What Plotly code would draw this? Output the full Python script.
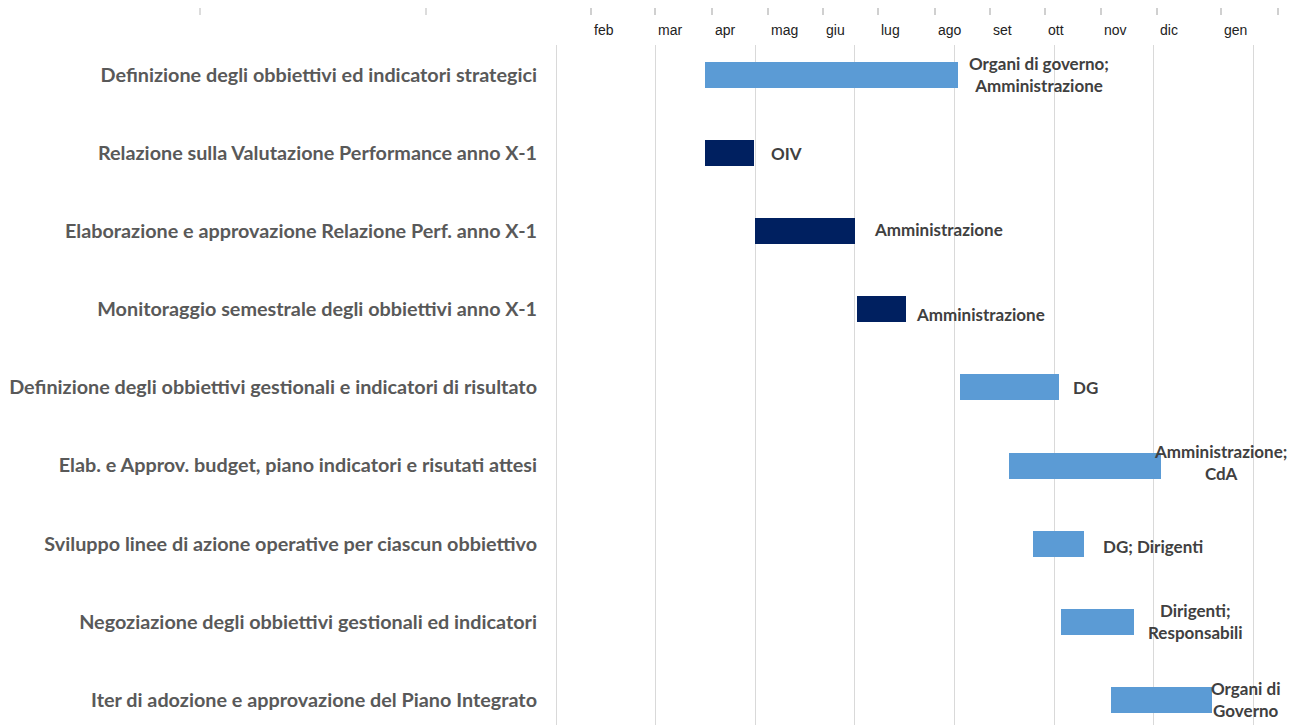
import datetime as dt
import plotly.graph_objects as go

# ---------------- data ----------------
TASKS = [
    "Definizione degli obbiettivi ed indicatori strategici",
    "Relazione sulla Valutazione Performance anno X-1",
    "Elaborazione e approvazione Relazione Perf. anno X-1",
    "Monitoraggio semestrale degli obbiettivi anno X-1",
    "Definizione degli obbiettivi gestionali e indicatori di risultato",
    "Elab. e Approv. budget, piano indicatori e risutati attesi",
    "Sviluppo linee di azione operative per ciascun obbiettivo",
    "Negoziazione degli obbiettivi gestionali ed indicatori",
    "Iter di adozione e approvazione del Piano Integrato",
]
START = ["2019-04-01", "2019-04-01", "2019-05-01", "2019-07-01", "2019-09-01",
         "2019-10-01", "2019-10-15", "2019-11-01", "2019-12-01"]
END = ["2019-08-31", "2019-04-30", "2019-06-30", "2019-07-31", "2019-10-31",
       "2019-12-31", "2019-11-15", "2019-12-15", "2020-01-31"]
OWNERS = [
    "Organi di governo;<br>Amministrazione",
    "OIV",
    "Amministrazione",
    "Amministrazione",
    "DG",
    "Amministrazione;<br>CdA",
    "DG; Dirigenti",
    "Dirigenti;<br>Responsabili",
    "Organi di<br>Governo",
]
MONTHS = ["feb", "mar", "apr", "mag", "giu", "lug", "ago", "set", "ott", "nov", "dic", "gen"]

# ---------------- styles / layout ----------------
LIGHT = "#5B9BD5"
DARK = "#002060"
BAR_COLORS = [LIGHT, DARK, DARK, DARK, LIGHT, LIGHT, LIGHT, LIGHT, LIGHT]
LABEL_XSHIFT = [9, 15, 17, 8, 12, -9, 17, 12, -3]
LABEL_YSHIFT = [0, 0, 2, -5, 0, 3, -3, 0, 0]
# widths (px) of the spreadsheet header cells holding the month names
HEADER_CELL_W = [64, 57, 56, 55, 55, 57, 55, 55, 56, 56, 64, 57]

FONT = "Lato, Carlito, Calibri, sans-serif"

# page geometry (pixels in the 1306x725 window; the page body has an 8px margin)
OFF = 8
W, H = 1306 - OFF, 725 - OFF
PX_PER_DAY = 1.661
ORIGIN_PX = 556 - OFF          # pixel of 1 Jan
DOMAIN_LEFT_PX = 552 - OFF
PLOT_TOP_PX = 45 - OFF
ROW0_PX = 75 - OFF
ROW_STEP = 78.1
CELL_LEFT_PX = 591 - OFF
MONTH_Y_PX = 30 - OFF

origin = dt.datetime(2019, 1, 1)
x_start = origin - dt.timedelta(days=(ORIGIN_PX - DOMAIN_LEFT_PX) / PX_PER_DAY)
x_end = origin + dt.timedelta(days=(W - ORIGIN_PX) / PX_PER_DAY)
row_top = -(ROW0_PX - PLOT_TOP_PX) / ROW_STEP
row_bottom = (H - ROW0_PX) / ROW_STEP


def to_dt(s):
    return dt.datetime.strptime(s, "%Y-%m-%d")


durations_ms = [(to_dt(e) - to_dt(s)).total_seconds() * 1000 for s, e in zip(START, END)]

# header cell borders (in px from the first border)
borders = [0]
for w_ in HEADER_CELL_W:
    borders.append(borders[-1] + w_)

fig = go.Figure()
fig.add_trace(go.Bar(
    y=TASKS, x=durations_ms, base=START, orientation="h",
    marker=dict(color=BAR_COLORS, line=dict(width=0)),
    width=26 / ROW_STEP, hoverinfo="skip", showlegend=False,
))

# invisible helper trace so the header axis is drawn
fig.add_trace(go.Scatter(x=borders[:-1], y=[TASKS[0]] * len(MONTHS), xaxis="x2", mode="markers",
                         marker=dict(opacity=0), hoverinfo="skip", showlegend=False))

for task, end, text, xs, ys in zip(TASKS, END, OWNERS, LABEL_XSHIFT, LABEL_YSHIFT):
    fig.add_annotation(x=end, y=task, text=text, showarrow=False, xanchor="left",
                       align="center", xshift=xs, yshift=ys,
                       font=dict(family=FONT, size=17, color="#404040", weight="bold"))

month_y = (H - MONTH_Y_PX) / H
for m, b in zip(MONTHS, borders[:-1]):
    fig.add_annotation(x=b, xref="x2", y=month_y, yref="paper", text=m, showarrow=False,
                       xanchor="left", yanchor="middle", xshift=1,
                       font=dict(family="Liberation Sans Narrow, Arial Narrow, Liberation Sans, Arial",
                                 size=14, color="#222222"))

dom_left = DOMAIN_LEFT_PX / W
dom_top = (H - PLOT_TOP_PX) / H
border_y0 = min(1.0, (H - (3 - OFF)) / H)
border_y1 = (H - (15 - OFF)) / H

fig.update_layout(
    width=W, height=H,
    margin=dict(l=0, r=0, t=0, b=0, autoexpand=False),
    paper_bgcolor="white", plot_bgcolor="white",
    bargap=0,
    xaxis=dict(
        type="date", domain=[dom_left, 1], range=[x_start, x_end], automargin=False,
        tick0="2019-01-01", dtick=60 * 86400000,
        showgrid=True, gridcolor="#D9D9D9", gridwidth=1,
        showticklabels=False, zeroline=False, showline=False, ticks="",
    ),
    xaxis2=dict(
        overlaying="x", side="top", anchor="free", position=border_y1,
        range=[DOMAIN_LEFT_PX - CELL_LEFT_PX, W - CELL_LEFT_PX], automargin=False,
        tickmode="array", tickvals=borders,
        showticklabels=False, ticks="outside", ticklen=12, tickwidth=1.5,
        tickcolor="#D0D0D0", showgrid=False, zeroline=False, showline=False,
    ),
    yaxis=dict(
        domain=[0, dom_top], type="category", range=[row_bottom, row_top], automargin=False,
        categoryorder="array", categoryarray=TASKS,
        showgrid=False, zeroline=False, showline=False, ticks="",
        ticklabelstandoff=14,
        tickfont=dict(family=FONT, size=19.8, color="#595959", weight="bold"),
    ),
    shapes=[
        dict(type="line", xref="paper", yref="paper", x0=(200 - OFF) / W, x1=(200 - OFF) / W,
             y0=border_y0, y1=border_y1, line=dict(color="#D0D0D0", width=1.5)),
        dict(type="line", xref="paper", yref="paper", x0=(426 - OFF) / W, x1=(426 - OFF) / W,
             y0=border_y0, y1=border_y1, line=dict(color="#D0D0D0", width=1.5)),
    ],
)

fig.write_html("out.html")
